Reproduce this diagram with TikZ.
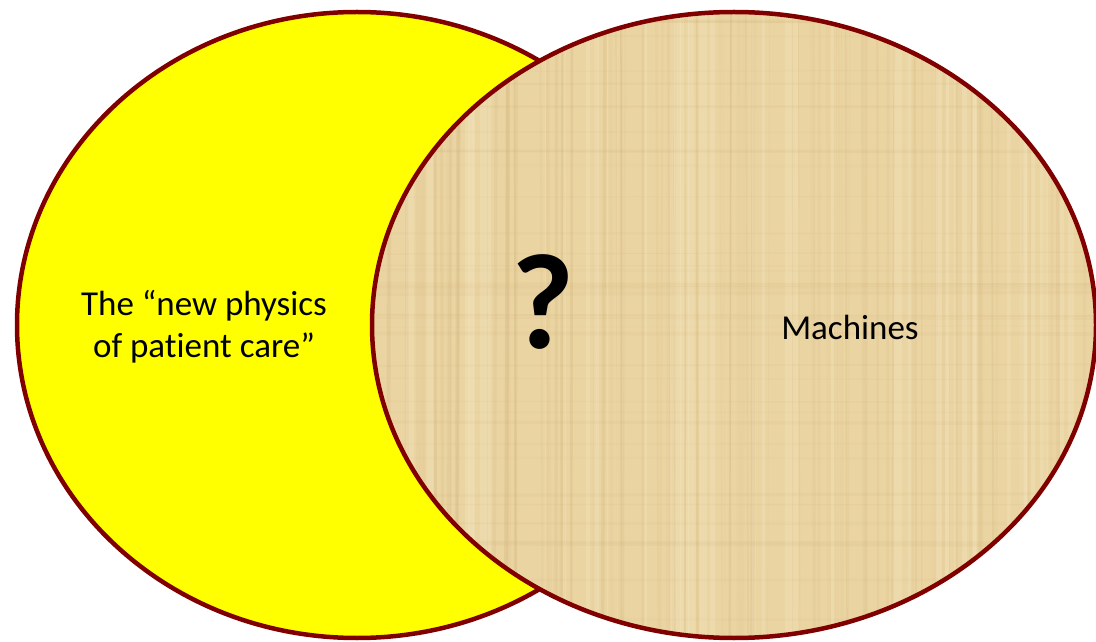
\documentclass[tikz,border=0pt]{standalone}
\usepackage{fontspec}
\setmainfont{Carlito}[Ligatures=NoCommon]
\usetikzlibrary{shapes.geometric}
\definecolor{rim}{RGB}{128,0,0}
\definecolor{papyrus}{RGB}{234,212,162}
\definecolor{papdark}{RGB}{200,168,105}
\definecolor{paplight}{RGB}{247,232,196}
\definecolor{pureyellow}{RGB}{255,255,0}
\tikzset{
  venn/.style={ellipse, draw=rim, line width=4.5pt, inner sep=0pt},
  lbl/.style={font=\fontsize{35}{42}\selectfont, align=center, text=black},
}
\begin{document}
\begin{tikzpicture}[x=1pt,y=1pt]
\useasboundingbox (0,0) rectangle (1096,641);
\fill[white] (0,0) rectangle (1096,641);
\node[venn, fill=pureyellow, minimum width=680pt, minimum height=626pt] (left) at (357,316) {};
\node[venn, fill=papyrus, minimum width=724pt, minimum height=626pt,
  path picture={
    \pgfmathsetseed{7}
    \foreach \i in {1,...,110}{
      \pgfmathsetmacro{\xx}{-370+rnd*740}
      \pgfmathsetmacro{\ww}{0.6+rnd*3.5}
      \pgfmathsetmacro{\oo}{0.04+rnd*0.13}
      \pgfmathsetmacro{\dd}{rnd*6-3}
      \draw[papdark, line width=\ww pt, opacity=\oo] (\xx,-330) -- (\xx+\dd,330);
    }
    \foreach \i in {1,...,45}{
      \pgfmathsetmacro{\xx}{-370+rnd*740}
      \pgfmathsetmacro{\ww}{1+rnd*8}
      \draw[paplight, line width=\ww pt, opacity=0.3] (\xx,-330) -- (\xx,330);
    }
    \foreach \i in {1,...,45}{
      \pgfmathsetmacro{\yy}{-330+rnd*660}
      \pgfmathsetmacro{\ww}{0.6+rnd*3}
      \pgfmathsetmacro{\oo}{0.03+rnd*0.09}
      \pgfmathsetmacro{\dd}{rnd*4-2}
      \draw[papdark, line width=\ww pt, opacity=\oo] (-370,\yy) -- (370,\yy+\dd);
    }
  }] (right) at (734,316) {};
\node[lbl] (leftlabel) at (204,314) {The “new physics\\of patient care”};
\node[lbl] (rightlabel) at (850,314) {Machines};
\node[font=\fontsize{136}{140}\selectfont\bfseries] (question) at (543,338.5) {?};
\end{tikzpicture}
\end{document}
